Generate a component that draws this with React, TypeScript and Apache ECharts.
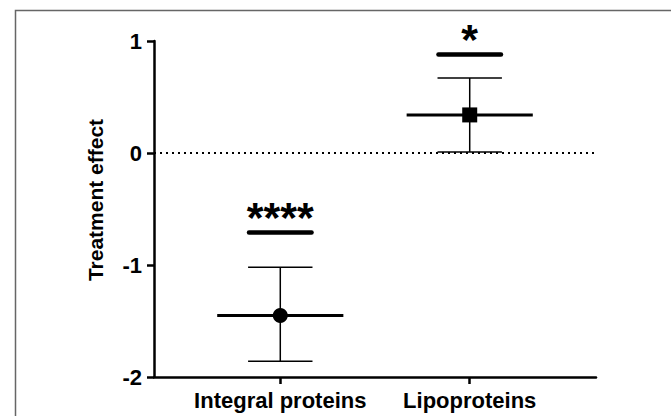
import React, { useEffect, useRef } from "react";
import * as echarts from "echarts";

const categories = ["Integral proteins", "Lipoproteins"];
const means = [-1.45, 0.34];
const lowers = [-1.86, 0.01];
const uppers = [-1.02, 0.67];
const sigLevels = [-0.71, 0.88];
const sigLabels = ["****", "*"];
const markers = ["circle", "square"];
const yTicks = [-2, -1, 0, 1];

const FONT = "'Liberation Sans', Arial, Helvetica, sans-serif";

export default function App() {
  const ref = useRef<HTMLDivElement>(null);
  useEffect(() => {
    if (!ref.current) return;
    const chart = echarts.init(ref.current, null, { renderer: "svg" });
    const data = categories.map((c, i) => [i + 1, means[i], lowers[i], uppers[i], sigLevels[i]]);
    const option: any = {
      animation: false,
      backgroundColor: "#fff",
      grid: { left: 154, right: 75, top: 41, bottom: 39 },
      xAxis: {
        type: "value",
        min: 1 / 3,
        max: 8 / 3,
        axisLine: { show: true, onZero: false, lineStyle: { color: "#000", width: 2.5 } },
        axisTick: { show: true, customValues: [1, 2], length: 7, lineStyle: { color: "#000", width: 2.5 } },
        axisLabel: {
          customValues: [1, 2],
          formatter: (v: number) => categories[Math.round(v) - 1] ?? "",
          color: "#000",
          fontFamily: FONT,
          fontWeight: "bold",
          fontSize: 22,
          margin: 12,
        },
        splitLine: { show: false },
      },
      yAxis: {
        type: "value",
        min: yTicks[0],
        max: yTicks[yTicks.length - 1],
        interval: 1,
        axisLine: { show: true, onZero: false, lineStyle: { color: "#000", width: 2.5 } },
        axisTick: { show: true, length: 7, lineStyle: { color: "#000", width: 2.5 } },
        axisLabel: {
          color: "#000",
          fontFamily: FONT,
          fontWeight: "bold",
          fontSize: 22,
          margin: 12,
        },
        splitLine: { show: false },
      },
      graphic: [
        {
          type: "rect",
          left: 13,
          top: 8,
          shape: { width: 720, height: 460 },
          style: { fill: "none", stroke: "#666", lineWidth: 1.5 },
          silent: true,
          z: -10,
        },
        {
          type: "text",
          x: 95,
          y: 200,
          rotation: Math.PI / 2,
          style: {
            text: "Treatment effect",
            font: `bold 21px ${FONT}`,
            fill: "#000",
            align: "center",
            verticalAlign: "middle",
          },
        },
      ],
      series: [
        {
          type: "line",
          data: [],
          markLine: {
            silent: true,
            symbol: ["none", "none"],
            label: { show: false },
            lineStyle: { color: "#000", type: [2, 4], width: 2 },
            data: [{ yAxis: 0 }],
          },
        },
        {
          type: "custom",
          data,
          renderItem: (params: any, api: any) => {
            const i = params.dataIndex;
            const x = api.value(0);
            const m = api.value(1);
            const lo = api.value(2);
            const hi = api.value(3);
            const sig = api.value(4);
            const unit = api.size([1, 0])[0];
            const pM = api.coord([x, m]);
            const pLo = api.coord([x, lo]);
            const pHi = api.coord([x, hi]);
            const pS = api.coord([x, sig]);
            const cap = 0.17 * unit;
            const half = 0.333 * unit;
            const sigHalf = 0.165 * unit;
            const thin = { stroke: "#000", lineWidth: 1.5 };
            const children: any[] = [
              { type: "line", shape: { x1: pM[0], y1: pLo[1], x2: pM[0], y2: pHi[1] }, style: thin },
              { type: "line", shape: { x1: pM[0] - cap, y1: pHi[1], x2: pM[0] + cap, y2: pHi[1] }, style: thin },
              { type: "line", shape: { x1: pM[0] - cap, y1: pLo[1], x2: pM[0] + cap, y2: pLo[1] }, style: thin },
              {
                type: "line",
                shape: { x1: pM[0] - half, y1: pM[1], x2: pM[0] + half, y2: pM[1] },
                style: { stroke: "#000", lineWidth: 3 },
              },
              markers[i] === "circle"
                ? { type: "circle", shape: { cx: pM[0], cy: pM[1], r: 7.5 }, style: { fill: "#000" } }
                : { type: "rect", shape: { x: pM[0] - 7.5, y: pM[1] - 7.5, width: 15, height: 15 }, style: { fill: "#000" } },
              {
                type: "line",
                shape: { x1: pS[0] - sigHalf, y1: pS[1], x2: pS[0] + sigHalf, y2: pS[1] },
                style: { stroke: "#000", lineWidth: 4.5, lineCap: "round" },
              },
              {
                type: "text",
                x: pS[0],
                y: pS[1] + 6,
                style: {
                  text: sigLabels[i],
                  font: `bold 43px ${FONT}`,
                  fill: "#000",
                  align: "center",
                  verticalAlign: "bottom",
                },
              },
            ];
            return { type: "group", children };
          },
        },
      ],
    };
    chart.setOption(option);
    return () => chart.dispose();
  }, []);
  return (
    <div
      ref={ref}
      style={{ position: "fixed", left: 0, top: 0, width: 671, height: 416, background: "#fff" }}
    />
  );
}
